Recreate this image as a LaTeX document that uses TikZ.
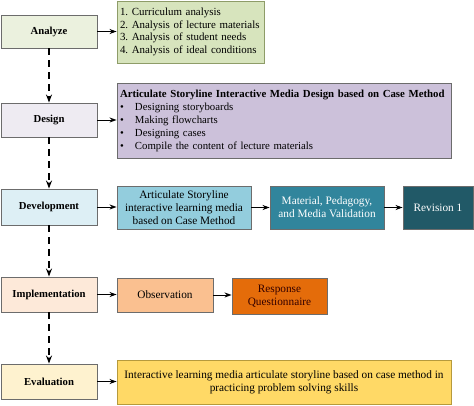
\documentclass[tikz,border=0pt]{standalone}
\usepackage{fontspec}
\setmainfont{Liberation Serif}
\usetikzlibrary{arrows.meta}
\frenchspacing
\definecolor{anaL}{HTML}{EBF1DE}
\definecolor{anaB}{HTML}{D7E4BD}
\definecolor{anaD}{HTML}{8E9C68}
\definecolor{desL}{HTML}{EEEBF2}
\definecolor{desB}{HTML}{CCC1DA}
\definecolor{devL}{HTML}{DDEFF5}
\definecolor{devB}{HTML}{93CDDD}
\definecolor{devC}{HTML}{31859C}
\definecolor{devD}{HTML}{215967}
\definecolor{impL}{HTML}{FDE9D9}
\definecolor{impB}{HTML}{FAC090}
\definecolor{impC}{HTML}{E46C0A}
\definecolor{evaL}{HTML}{FEF2CF}
\definecolor{evaB}{HTML}{FFD966}
\definecolor{evaD}{HTML}{B69A3C}
\tikzset{
  box/.style={draw=gray!85!black, line width=0.9pt, rectangle, inner sep=2pt, align=center,
    font=\fontsize{11.3}{12.7}\selectfont},
  stage/.style={box, minimum width=96pt, minimum height=35pt, font=\fontsize{10.7}{12}\selectfont\bfseries},
  harrow/.style={line width=0.9pt, -{Stealth[length=7pt,width=5pt]}},
  varrow/.style={line width=1.3pt, dash pattern=on 7pt off 5pt, -{Stealth[length=8pt,width=6pt]}},
}
\begin{document}
\begin{tikzpicture}[x=1pt,y=-1pt]
\useasboundingbox (0,0) rectangle (474,405);
% stages
\node[stage, fill=anaL, minimum height=33pt] (ana) at (49,31.5) {Analyze};
\node[stage, fill=desL, minimum height=34pt] (des) at (49,120) {Design};
\node[stage, fill=devL, minimum height=36pt] (dev) at (49,207) {Development};
\node[stage, fill=impL] (imp) at (49,294.5) {Implementation};
\node[stage, fill=evaL] (eva) at (49,381.5) {Evaluation};
% right boxes
\node[box, fill=anaB, draw=anaD, minimum width=147pt, minimum height=62pt, text width=141pt, align=left,
  font=\fontsize{10.9}{12.7}\selectfont] (anal) at (190.5,32)
  {1. Curriculum analysis\\2. Analysis of lecture materials\\3. Analysis of student needs\\4. Analysis of ideal conditions};
\node[box, fill=desB, minimum width=334pt, minimum height=75pt, text width=328pt, align=left,
  font=\fontsize{10.8}{13}\selectfont] (desl) at (284,120.5)
  {\textbf{Articulate Storyline Interactive Media Design based on Case Method}\\
   \makebox[15pt][l]{\textbullet}Designing storyboards\\
   \makebox[15pt][l]{\textbullet}Making flowcharts\\
   \makebox[15pt][l]{\textbullet}Designing cases\\
   \makebox[15pt][l]{\textbullet}Compile the content of lecture materials};
\node[box, fill=devB, minimum width=134pt, minimum height=43pt] (dev1) at (184,207.5)
  {Articulate Storyline\\interactive learning media\\based on Case Method};
\node[box, fill=devC, text=white, minimum width=114pt, minimum height=43pt] (dev2) at (327,207.5)
  {Material, Pedagogy,\\and Media Validation};
\node[box, fill=devD, text=white, minimum width=70pt, minimum height=43pt] (dev3) at (438,207.5)
  {Revision 1};
\node[box, fill=impB, minimum width=96pt, minimum height=34pt] (imp1) at (165,295) {Observation};
\node[box, fill=impC, text=black!80!red, minimum width=95pt, minimum height=36pt] (imp2) at (279.5,296)
  {Response\\Questionnaire};
\node[box, fill=evaB, draw=evaD, minimum width=334pt, minimum height=44pt] (eva1) at (284,382)
  {Interactive learning media articulate storyline based on case method in\\practicing problem solving skills};
% vertical dashed arrows
\draw[varrow] (ana) -- (des);
\draw[varrow] (des) -- (dev);
\draw[varrow] (dev) -- (imp);
\draw[varrow] (imp) -- (eva);
% horizontal arrows
\draw[harrow] (ana.east) -- (ana.east -| anal.west);
\draw[harrow] (des.east) -- (des.east -| desl.west);
\draw[harrow] (dev.east) -- (dev.east -| dev1.west);
\draw[harrow] (dev1.east) -- (dev1.east -| dev2.west);
\draw[harrow] (dev2.east) -- (dev2.east -| dev3.west);
\draw[harrow] (imp.east) -- (imp.east -| imp1.west);
\draw[harrow] (imp1.east) -- (imp1.east -| imp2.west);
\draw[harrow] (eva.east) -- (eva.east -| eva1.west);
\end{tikzpicture}
\end{document}
